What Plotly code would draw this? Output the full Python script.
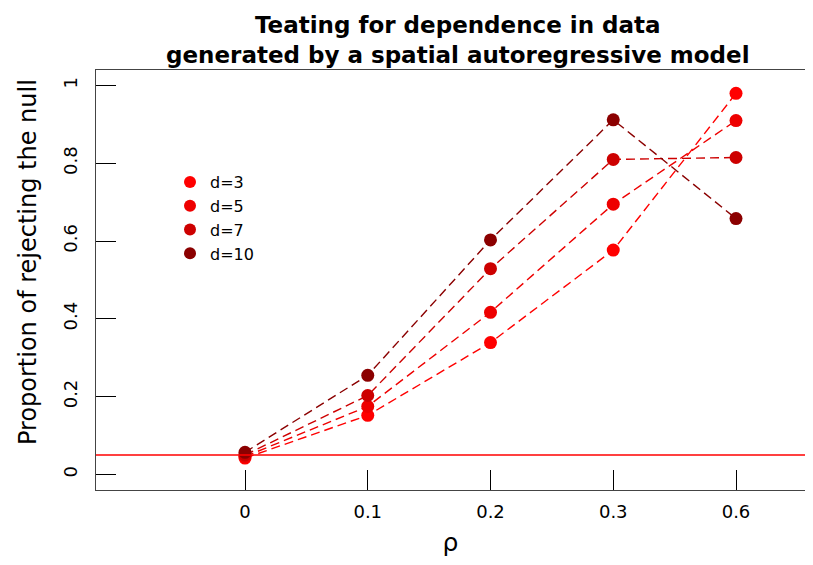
import plotly.graph_objects as go

rho_labels = ["0", "0.1", "0.2", "0.3", "0.6"]
series_names = ["d=3", "d=5", "d=7", "d=10"]
colors = ["#FF0000", "#EE0000", "#CD0000", "#8B0000"]
d3 = [0.042, 0.152, 0.339, 0.577, 0.980]
d5 = [0.046, 0.175, 0.417, 0.695, 0.910]
d7 = [0.050, 0.203, 0.529, 0.810, 0.815]
d10 = [0.057, 0.255, 0.603, 0.912, 0.658]
series_values = [d3, d5, d7, d10]
alpha_level = 0.05
y_ticks = [0, 0.2, 0.4, 0.6, 0.8, 1]
y_tick_labels = ["0", "0.2", "0.4", "0.6", "0.8", "1"]
title_text = "<b>Teating for dependence in data<br>generated by a spatial autoregressive model</b>"
x_title = "ρ"
y_title = "Proportion of rejecting the null"

xpos = list(range(1, len(rho_labels) + 1))

W, H = 797, 549
L, T, B = 88, 62, 67
plot_w = W - L
plot_h = H - T - B

fig = go.Figure()
for name, col, vals in zip(series_names, colors, series_values):
    fig.add_trace(go.Scatter(
        x=xpos, y=vals, mode="lines+markers", name=name, showlegend=False,
        line=dict(color=col, width=1.4, dash="9px,5px"),
        marker=dict(color=col, size=13),
    ))
for name, col in zip(series_names, colors):
    fig.add_trace(go.Scatter(
        x=[None], y=[None], mode="markers", name=name,
        marker=dict(color=col, size=12),
    ))

fig.add_shape(type="line", xref="paper", x0=0, x1=1, yref="y",
              y0=alpha_level, y1=alpha_level, line=dict(color="#FF0000", width=1.4))

font = "DejaVu Sans, Liberation Sans, Arial, sans-serif"

fig.add_annotation(
    text=title_text, xref="paper", yref="paper",
    x=(450 - L) / plot_w, y=1, xanchor="center", yanchor="bottom",
    yshift=0, showarrow=False, font=dict(size=23, family=font, color="black"),
)
fig.add_annotation(
    text=y_title, xref="paper", yref="paper", textangle=-90,
    x=0, y=(H - B - 254) / plot_h, xanchor="center", yanchor="middle",
    xshift=-(L - 20), showarrow=False, font=dict(size=24, family=font, color="black"),
)

fig.update_layout(
    width=W, height=H,
    margin=dict(l=L, r=0, t=T, b=B),
    paper_bgcolor="white", plot_bgcolor="white",
    font=dict(family=font, color="black", size=18),
    legend=dict(x=(162 - L) / plot_w, y=1 - (157 - T) / plot_h, xanchor="left", yanchor="top",
                bgcolor="rgba(0,0,0,0)", font=dict(size=16), tracegroupgap=0,
                itemwidth=30),
    showlegend=True,
)
fig.update_xaxes(
    range=[1 - (237 - L) / 122.75, 5 + (W - 728) / 122.75],
    tickvals=xpos, ticktext=rho_labels,
    ticks="inside", ticklen=20, tickcolor="black", tickwidth=1,
    showline=True, linecolor="#444", linewidth=1, mirror=True,
    showgrid=False, zeroline=False,
    ticklabelstandoff=5,
    title=dict(text=x_title, font=dict(size=25), standoff=12),
)
fig.update_yaxes(
    range=[-0.04, 1.04],
    tickvals=y_ticks, ticktext=y_tick_labels, tickangle=-90,
    ticks="inside", ticklen=20, tickcolor="black", tickwidth=1,
    showline=True, linecolor="#444", linewidth=1, mirror=False,
    showgrid=False, zeroline=False,
    ticklabelstandoff=11,
)

fig.write_html("out.html")
